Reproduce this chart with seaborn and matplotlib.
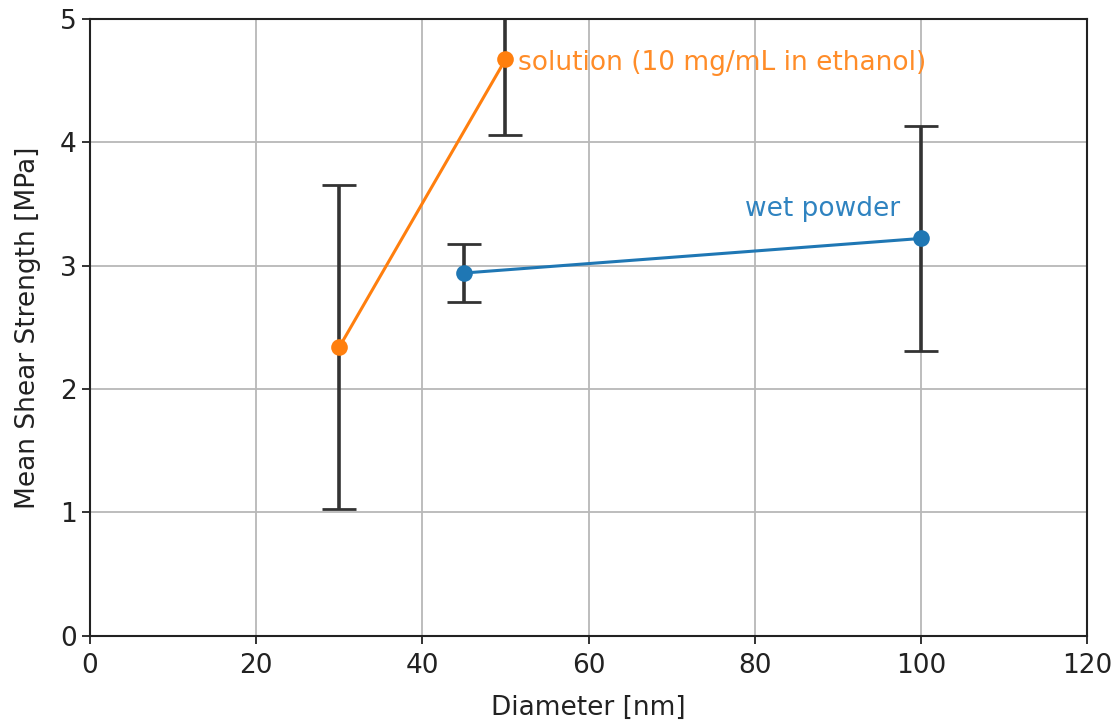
import matplotlib
matplotlib.use("Agg")
import matplotlib.pyplot as plt
import seaborn as sns
import pandas as pd

# Data
sol_x = [30, 50]
sol_y = [2.34, 4.67]
sol_err = [1.31, 0.61]
wet_x = [45, 100]
wet_y = [2.94, 3.22]
wet_err = [0.235, 0.91]
xticks = [0, 20, 40, 60, 80, 100, 120]
yticks = [0, 1, 2, 3, 4, 5]

sns.set_style("white")
plt.rcParams['font.family'] = ['DejaVu Sans']

fig = plt.figure(figsize=(11.12, 7.21), dpi=100)
ax = fig.add_axes([0.081, 0.118, 0.8965, 0.856])

df_sol = pd.DataFrame({"x": sol_x, "y": sol_y})
df_wet = pd.DataFrame({"x": wet_x, "y": wet_y})

ax.errorbar(sol_x, sol_y, yerr=sol_err, fmt='none', ecolor='#333333',
            elinewidth=2.6, capsize=12.5, capthick=2, zorder=2)
ax.errorbar(wet_x, wet_y, yerr=wet_err, fmt='none', ecolor='#333333',
            elinewidth=2.6, capsize=12.5, capthick=2, zorder=2)

sns.lineplot(data=df_sol, x="x", y="y", ax=ax, color='#ff7f0e', marker='o',
             markersize=12, markeredgewidth=0, linewidth=2.2, zorder=3)
sns.lineplot(data=df_wet, x="x", y="y", ax=ax, color='#1f77b4', marker='o',
             markersize=12, markeredgewidth=0, linewidth=2.2, zorder=3)

ax.text(51.5, 4.64, "solution (10 mg/mL in ethanol)", color='#ff8c28',
        fontsize=19, va='center', ha='left')
ax.text(97.5, 3.35, "wet powder", color='#2f83c0', fontsize=19,
        va='bottom', ha='right')

ax.set_xlim(0, 120)
ax.set_ylim(0, 5)
ax.set_xticks(xticks)
ax.set_yticks(yticks)
ax.grid(True, color='#b8b8b8', linewidth=1.3)
ax.set_axisbelow(True)
ax.tick_params(axis='both', direction='out', length=6, width=1.3, labelsize=19,
               bottom=True, left=True, colors='#222222')
ax.tick_params(axis='x', pad=6)
for s in ax.spines.values():
    s.set_color('#222222')
    s.set_linewidth(1.5)
ax.set_xlabel("Diameter [nm]", fontsize=19, color='#222222', labelpad=12)
ax.set_ylabel("Mean Shear Strength [MPa]", fontsize=19, color='#222222', labelpad=14)

fig.savefig("out.png", dpi=100)
